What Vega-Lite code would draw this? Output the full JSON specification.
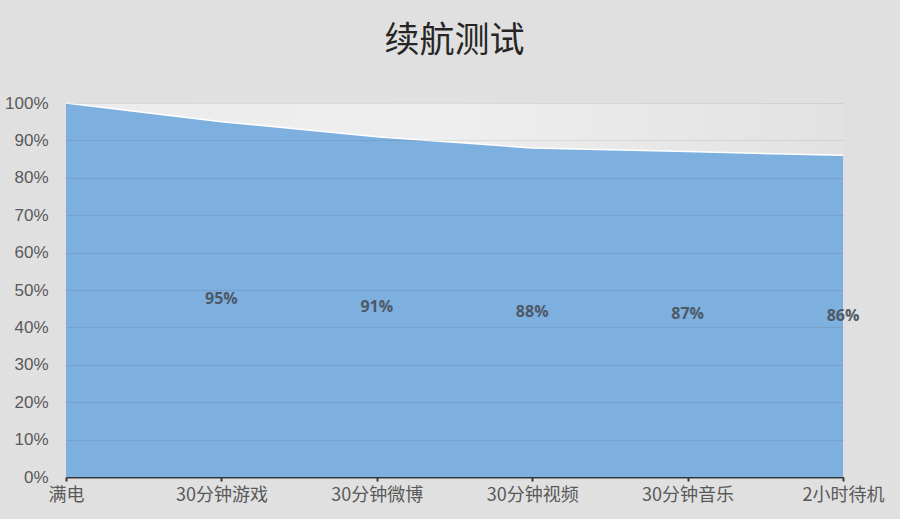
{
  "$schema": "https://vega.github.io/schema/vega-lite/v6.json",
  "autosize": "none",
  "width": 777,
  "height": 374,
  "padding": {"left": 66, "top": 103, "right": 57, "bottom": 42},
  "background": "#e0e0e0",
  "title": {
    "text": "续航测试",
    "font": "Noto Sans CJK SC",
    "fontSize": 35,
    "fontWeight": "normal",
    "color": "#262626",
    "offset": 35,
    "anchor": "middle"
  },
  "data": {
    "values": [
      {"task": "满电", "level": 1.0},
      {"task": "30分钟游戏", "level": 0.95},
      {"task": "30分钟微博", "level": 0.91},
      {"task": "30分钟视频", "level": 0.88},
      {"task": "30分钟音乐", "level": 0.87},
      {"task": "2小时待机", "level": 0.86}
    ]
  },
  "layer": [
    {
      "mark": {
        "type": "area",
        "color": "#7eb0df",
        "opacity": 1,
        "line": {"color": "#ffffff", "strokeWidth": 1.5}
      },
      "encoding": {
        "x": {
          "field": "task",
          "type": "ordinal",
          "sort": null,
          "scale": {"type": "point", "padding": 0},
          "axis": {
            "title": null,
            "labelAngle": 0,
            "labelFont": "Noto Sans CJK SC",
            "labelFontSize": 18,
            "labelColor": "#595959",
            "labelPadding": 5,
            "domainColor": "#3a3a3a",
            "domainWidth": 2,
            "tickColor": "#3a3a3a",
            "tickWidth": 2,
            "tickSize": 4,
            "grid": false
          }
        },
        "y": {
          "field": "level",
          "type": "quantitative",
          "scale": {"domain": [0, 1]},
          "axis": {
            "title": null,
            "format": ".0%",
            "values": [0, 0.1, 0.2, 0.3, 0.4, 0.5, 0.6, 0.7, 0.8, 0.9, 1.0],
            "labelOverlap": false,
            "labelFont": "Liberation Sans",
            "labelFontSize": 17,
            "labelColor": "#595959",
            "labelPadding": 18,
            "domain": false,
            "ticks": false,
            "grid": true,
            "gridColor": "#000000",
            "gridOpacity": 0.08,
            "zindex": 1
          }
        }
      }
    },
    {
      "transform": [{"filter": "datum.task !== '满电'"}],
      "mark": {
        "type": "text",
        "font": "Open Sans",
        "fontSize": 16,
        "fontWeight": "bold",
        "color": "#4d5966"
      },
      "encoding": {
        "x": {"field": "task", "type": "ordinal", "sort": null},
        "y": {
          "field": "level",
          "type": "quantitative",
          "scale": {"domain": [0, 2]},
          "axis": null
        },
        "text": {"field": "level", "type": "quantitative", "format": ".0%"}
      }
    }
  ],
  "resolve": {"scale": {"y": "independent"}},
  "config": {
    "view": {
      "stroke": null,
      "fill": {
        "gradient": "linear",
        "x1": 0, "y1": 0, "x2": 1, "y2": 0,
        "stops": [
          {"offset": 0, "color": "#ececec"},
          {"offset": 0.5, "color": "#eeeeee"},
          {"offset": 1, "color": "#e2e2e2"}
        ]
      }
    }
  }
}
